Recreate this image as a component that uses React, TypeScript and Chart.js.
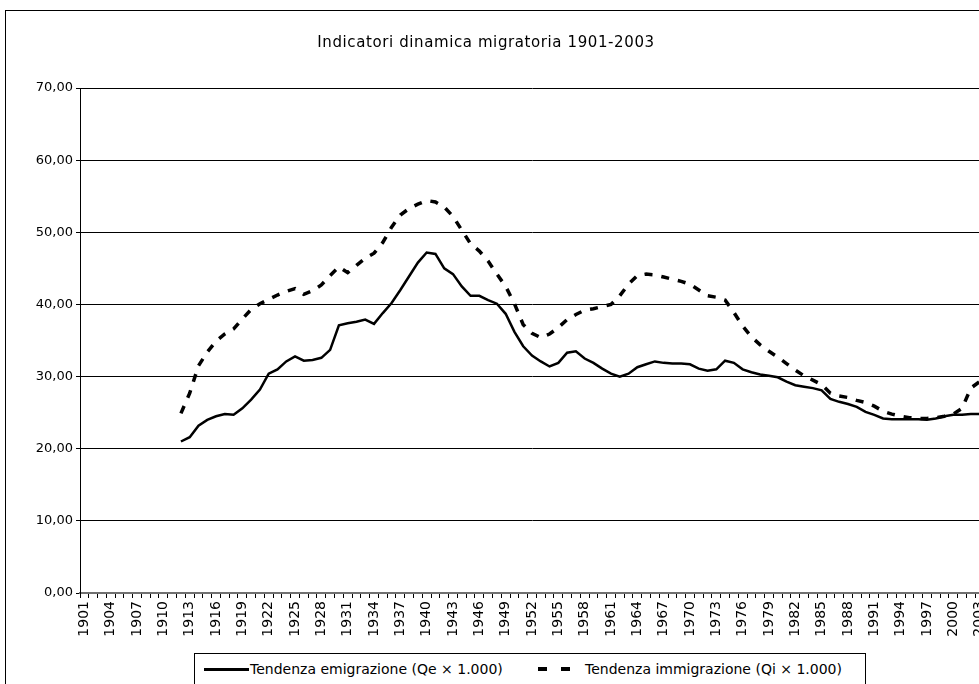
import React, { useEffect, useRef } from 'react';
import { Chart, registerables } from 'chart.js';

Chart.register(...registerables);

const START_YEAR = 1901;
const END_YEAR = 2003;
const FIRST_DATA_YEAR = 1912;

const years: string[] = [];
for (let y = START_YEAR; y <= END_YEAR; y++) years.push(String(y));

// Tendenza emigrazione (Qe x 1.000), 1912-2003
const emigration = [
  21.0, 21.6, 23.2, 24.0, 24.5, 24.8, 24.7, 25.6, 26.8, 28.2,
  30.4, 31.0, 32.1, 32.8, 32.2, 32.3, 32.6, 33.7, 37.1, 37.4,
  37.6, 37.9, 37.3, 38.8, 40.2, 42.0, 43.9, 45.8, 47.2, 47.0,
  45.0, 44.2, 42.5, 41.2, 41.2, 40.6, 40.1, 38.7, 36.2, 34.2,
  32.9, 32.1, 31.4, 31.9, 33.3, 33.5, 32.5, 31.9, 31.1, 30.4,
  30.0, 30.4, 31.3, 31.7, 32.1, 31.9, 31.8, 31.8, 31.7, 31.1,
  30.8, 31.0, 32.2, 31.9, 31.0, 30.6, 30.3, 30.1, 29.9, 29.3,
  28.8, 28.6, 28.4, 28.1, 26.9, 26.5, 26.2, 25.8, 25.1, 24.7,
  24.2, 24.1, 24.1, 24.1, 24.1, 24.0, 24.2, 24.5, 24.7, 24.7,
  24.8, 24.8,
];

// Tendenza immigrazione (Qi x 1.000), 1912-2003
const immigration = [
  24.9, 27.7, 31.5, 33.4, 34.9, 35.9, 36.6, 38.0, 39.3, 40.1,
  40.7, 41.3, 41.8, 42.2, 41.4, 41.9, 42.7, 44.0, 45.2, 44.4,
  45.4, 46.4, 47.1, 48.6, 50.7, 52.4, 53.3, 53.9, 54.4, 54.2,
  53.5, 52.2, 50.3, 48.4, 47.4, 46.0, 44.2, 42.5, 40.1, 37.2,
  36.0, 35.4, 35.9, 36.8, 37.9, 38.6, 39.2, 39.4, 39.7, 40.0,
  41.2, 42.8, 44.0, 44.2, 44.1, 43.8, 43.5, 43.2, 42.8, 42.0,
  41.2, 41.0, 40.6, 38.9, 37.0, 35.5, 34.4, 33.5, 32.7, 31.8,
  30.9, 30.1, 29.5, 28.9, 27.7, 27.3, 27.1, 26.7, 26.4, 25.9,
  25.2, 24.8, 24.5, 24.3, 24.2, 24.2, 24.3, 24.5, 24.8, 25.6,
  28.4, 29.3,
];

const Y_MIN = 0;
const Y_MAX = 70;
const Y_STEP = 10;
const LABEL_EVERY = 3;

const TITLE = 'Indicatori dinamica migratoria 1901-2003';
const EMI_LABEL = 'Tendenza emigrazione (Qe \u00d7 1.000)';
const IMM_LABEL = 'Tendenza immigrazione (Qi \u00d7 1.000)';

const FONT = '"DejaVu Sans", Verdana, sans-serif';
const CANVAS_W = 1000;
const CANVAS_H = 690;

export default function App() {
  const canvasRef = useRef<HTMLCanvasElement | null>(null);

  useEffect(() => {
    const canvas = canvasRef.current;
    if (!canvas) return;
    const gap = new Array(FIRST_DATA_YEAR - START_YEAR).fill(null);
    const chart = new Chart(canvas, {
      type: 'line',
      data: {
        labels: years,
        datasets: [
          {
            label: EMI_LABEL,
            data: [...gap, ...emigration],
            borderColor: '#000',
            backgroundColor: '#000',
            borderWidth: 2.5,
            pointRadius: 0,
            tension: 0,
            fill: false,
          },
          {
            label: IMM_LABEL,
            data: [...gap, ...immigration],
            borderColor: '#000',
            backgroundColor: '#000',
            borderWidth: 3.5,
            borderDash: [8, 9],
            pointRadius: 0,
            tension: 0,
            fill: false,
          },
        ],
      },
      options: {
        animation: false,
        responsive: false,
        maintainAspectRatio: false,
        layout: { padding: { top: 77, right: 22, left: 0, bottom: 0 } },
        plugins: {
          legend: { display: false },
          title: { display: false },
          tooltip: { enabled: false },
        },
        scales: {
          x: {
            type: 'category',
            offset: true,
            grid: {
              offset: true,
              drawOnChartArea: false,
              drawTicks: true,
              tickLength: 5,
              color: '#000',
            },
            border: { color: '#707070', width: 2 },
            ticks: {
              autoSkip: false,
              maxRotation: 90,
              minRotation: 90,
              padding: 3,
              color: '#000',
              font: { family: FONT, size: 14 },
              callback: (_v: any, i: number) => (i % LABEL_EVERY === 0 ? years[i] : ''),
            },
            afterFit: (s: any) => {
              s.height = 108;
            },
          },
          y: {
            min: Y_MIN,
            max: Y_MAX,
            ticks: {
              stepSize: Y_STEP,
              padding: 3,
              color: '#000',
              font: { family: FONT, size: 13 },
              callback: (v: any) => Number(v).toFixed(2).replace('.', ','),
            },
            grid: { color: '#000', lineWidth: 1, tickLength: 4, drawTicks: true },
            border: { color: '#000', width: 1 },
            afterFit: (s: any) => {
              s.width = 74;
            },
          },
        },
      },
    });
    return () => chart.destroy();
  }, []);

  return (
    <div
      style={{
        position: 'fixed',
        left: 0,
        top: 0,
        width: 979,
        height: 684,
        overflow: 'hidden',
        background: '#fff',
      }}
    >
      <div
        style={{
          position: 'absolute',
          left: 5,
          top: 10,
          width: 1030,
          height: 720,
          border: '1px solid #000',
        }}
      >
        <canvas
          ref={canvasRef}
          width={CANVAS_W}
          height={CANVAS_H}
          style={{ position: 'absolute', left: 0, top: 0, width: CANVAS_W, height: CANVAS_H }}
        />
      </div>
      <div
        style={{
          position: 'absolute',
          left: 0,
          width: 972,
          top: 33,
          textAlign: 'center',
          fontFamily: FONT,
          fontSize: 15,
          letterSpacing: '0.6px',
          lineHeight: '18px',
          color: '#000',
        }}
      >
        {TITLE}
      </div>
      <div
        style={{
          position: 'absolute',
          left: 194,
          top: 653,
          width: 670,
          height: 60,
          border: '1px solid #000',
          background: '#fff',
          fontFamily: FONT,
          fontSize: 14,
          color: '#000',
        }}
      >
        <div style={{ position: 'absolute', left: 9, top: 14, width: 45, height: 3, background: '#000' }} />
        <div style={{ position: 'absolute', left: 55, top: 6, lineHeight: '18px', whiteSpace: 'nowrap' }}>
          {EMI_LABEL}
        </div>
        <div style={{ position: 'absolute', left: 343, top: 13, width: 9, height: 4, background: '#000' }} />
        <div style={{ position: 'absolute', left: 366, top: 13, width: 9, height: 4, background: '#000' }} />
        <div style={{ position: 'absolute', left: 390, top: 6, lineHeight: '18px', whiteSpace: 'nowrap' }}>
          {IMM_LABEL}
        </div>
      </div>
    </div>
  );
}
